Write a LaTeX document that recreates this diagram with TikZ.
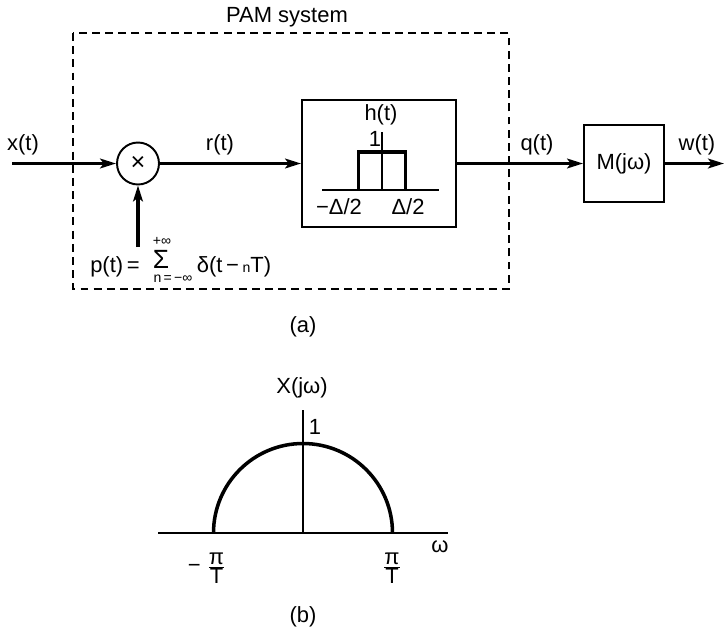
\documentclass[tikz,border=0pt]{standalone}
\usepackage{fontspec}
\setmainfont{Liberation Sans}
\usetikzlibrary{arrows.meta}

\begin{document}
\begin{tikzpicture}[x=0.02cm,y=-0.02cm,>={Stealth[length=9pt,width=5.5pt,inset=2pt]},
  font=\fontsize{12.5}{14}\selectfont,
  sig/.style={->,line width=2pt},
  blk/.style={draw,line width=1.1pt,inner sep=0pt},
  thinline/.style={line width=0.7pt},
  sysbox/.style={line width=0.8pt,dash pattern=on 4.5pt off 3pt},
  limit/.style={inner sep=0.5pt,font=\footnotesize}]
  \useasboundingbox (0,0) rectangle (724,629);

  % (a) block diagram
  \draw[sysbox] (73,33) rectangle (509,289);
  \node (pamlabel) at (287,17) {PAM system};

  \coordinate (xin) at (12,163.5);
  \coordinate (wout) at (724,163.5);
  \coordinate (pin) at (138,247);
  \node[blk,circle,minimum size=0.84cm] (mult) at (138,163.5) {\Large ×};
  \node[blk,minimum width=3.08cm,minimum height=2.54cm] (filt) at (379,163.5) {};
  \node[blk,minimum width=1.6cm,minimum height=1.54cm] (mbox) at (624,163.5) {M(jω)};

  \draw[sig] (xin) -- (mult);
  \draw[sig] (mult) -- (filt);
  \draw[sig] (filt) -- (mbox);
  \draw[sig] (mbox) -- (wout);
  \draw[sig] (pin) -- (mult);

  \node (xlabel) at (23,145) {x(t)};
  \node (rlabel) at (220,145) {r(t)};
  \node (qlabel) at (537,145) {q(t)};
  \node (wlabel) at (697,145) {w(t)};

  % p(t) = sum of impulses
  \node (plabel) at (115,267) {p(t)\,=};
  \node[inner sep=0pt] (psum) at (161,259) {\fontsize{15}{15}\selectfont Σ};
  \node[limit] (pup) at (162,241) {+∞};
  \node[limit] (plow) at (173,279) {n\,=\,−∞};
  \node (pdelta) at (234,267) {δ(t\,−\,{\footnotesize n}T)};

  % impulse response inside the filter
  \draw[thinline] (322,190) -- (439,190);
  \draw[thinline] (382,132) -- (382,190);
  \draw[line width=2pt] (358.5,190) -- (358.5,152) -- (405.5,152) -- (405.5,190);
  \node (hlabel) at (381,115) {h(t)};
  \node (onelabel) at (375,139) {1};
  \node (mdlabel) at (339,207) {−Δ/2};
  \node (pdlabel) at (408,207) {Δ/2};

  \node (alabel) at (303,327) {(a)};

  % (b) spectrum
  \draw[thinline] (158,533) -- (448,533);
  \draw[thinline] (303,410) -- (303,533);
  \draw[line width=2pt] (213.5,533) arc[start angle=180,end angle=360,radius=89.5];
  \node (Xlabel) at (302,388) {X(jω)};
  \node (ytick) at (315,427) {1};
  \node (wlab) at (440,547) {ω};
  \node (mpilabel) at (207,568) {−\;$\frac{\hbox{π}}{\hbox{T}}$};
  \node (ppilabel) at (392,568) {$\frac{\hbox{π}}{\hbox{T}}$};
  \node (blabel) at (303,617) {(b)};
\end{tikzpicture}
\end{document}
